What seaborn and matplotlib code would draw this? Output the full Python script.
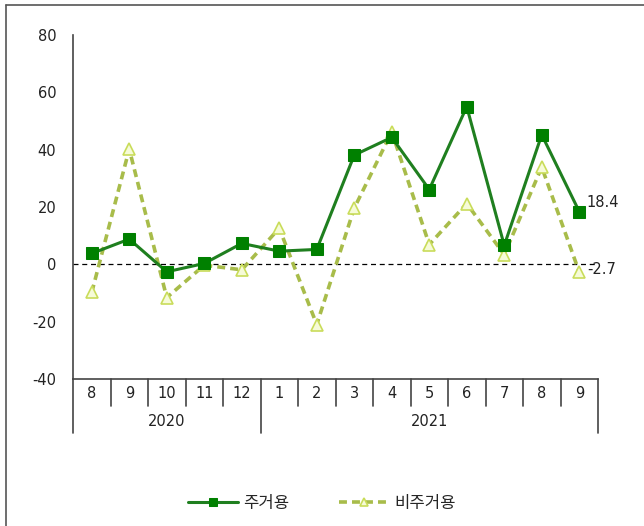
import matplotlib
matplotlib.use("Agg")
import matplotlib.pyplot as plt
import matplotlib.transforms as mtransforms
from matplotlib.lines import Line2D
import seaborn as sns
import pandas as pd

# data
months = ['8', '9', '10', '11', '12', '1', '2', '3', '4', '5', '6', '7', '8', '9']
years = ['2020', '2021']
year_spans = [(0, 5), (5, 14)]
residential = [3.8, 8.8, -2.6, 0.3, 7.3, 4.6, 5.2, 38.1, 44.3, 26.1, 55.0, 6.6, 45.2, 18.4]
non_residential = [-9.8, 40.2, -11.6, -0.3, -1.9, 12.6, -21.0, 19.6, 46.2, 6.9, 21.2, 3.4, 33.9, -2.7]
series_names = ['주거용', '비주거용']

sns.set_style("white")
plt.rcParams['font.family'] = ['DejaVu Sans', 'Noto Sans CJK KR']
plt.rcParams['axes.unicode_minus'] = False

df = pd.DataFrame({'pos': range(len(months)), 'res': residential, 'nonres': non_residential})

fig = plt.figure(figsize=(6.44, 5.26), dpi=100)
ax = fig.add_axes([73 / 644, 1 - 379 / 526, 525 / 644, 344 / 526])

ax.axhline(0, color='black', linestyle=(0, (4, 3)), linewidth=0.9, zorder=1)

sns.lineplot(data=df, x='pos', y='nonres', ax=ax, color='#a8bc4a', linewidth=2.6,
             linestyle=(0, (2.2, 1.4)), marker='^', markersize=8.5,
             markerfacecolor='#f6fbd8', markeredgecolor='#c9dc5a', markeredgewidth=1.2,
             zorder=2, label=series_names[1])
sns.lineplot(data=df, x='pos', y='res', ax=ax, color='#1f7f1f', linewidth=2.2,
             marker='s', markersize=8, markerfacecolor='#008000', markeredgecolor='#008000',
             zorder=3, label=series_names[0])

ax.set_xlim(-0.5, len(months) - 0.5)
ax.set_ylim(-40, 80)
ax.set_yticks(range(-40, 81, 20))
ax.set_xticks([])
ax.set_xlabel('')
ax.set_ylabel('')
ax.tick_params(axis='y', direction='in', length=5, width=1, colors='#333333',
               labelsize=10.5, pad=12, labelcolor='#222222')
for s in ['top', 'right']:
    ax.spines[s].set_visible(False)
for s in ['left', 'bottom']:
    ax.spines[s].set_color('#444444')
    ax.spines[s].set_linewidth(1.2)

# value labels at the last point
ax.text(len(months) - 1 + 0.2, residential[-1] + 3, f'{residential[-1]}', fontsize=10.5,
        va='center', ha='left', color='#222222')
ax.text(len(months) - 1 + 0.2, non_residential[-1] + 1, f'{non_residential[-1]}', fontsize=10.5,
        va='center', ha='left', color='#222222')

# two-level category axis
trans = mtransforms.blended_transform_factory(ax.transData, fig.transFigure)
y_top = 1 - 379 / 526
y_short = 1 - 406 / 526
y_long = 1 - 433 / 526
y_month = 1 - 393 / 526
y_year = 1 - 421 / 526
year_edges = [a for a, b in year_spans] + [year_spans[-1][1]]
for i in range(len(months) + 1):
    x = i - 0.5
    bottom = y_long if i in year_edges else y_short
    fig.add_artist(Line2D([x, x], [y_top, bottom], transform=trans, color='#444444', linewidth=1.2))
for i, m in enumerate(months):
    fig.text(i, y_month, m, transform=trans, ha='center', va='center', fontsize=10.5, color='#222222')
for yr, (a, b) in zip(years, year_spans):
    fig.text((a + b - 1) / 2, y_year, yr, transform=trans, ha='center', va='center',
             fontsize=10.5, color='#222222')

# outer frame (left and top edges)
fig.add_artist(Line2D([6 / 644, 6 / 644], [0, 1 - 5 / 526], transform=fig.transFigure,
                      color='#555555', linewidth=1.2))
fig.add_artist(Line2D([6 / 644, 1], [1 - 5 / 526, 1 - 5 / 526], transform=fig.transFigure,
                      color='#555555', linewidth=1.2))

handles, labels = ax.get_legend_handles_labels()
order = [labels.index(n) for n in series_names]
ax.legend_.remove()
fig.legend([handles[k] for k in order], [labels[k] for k in order], loc='center',
           bbox_to_anchor=(0.5, 1 - 503 / 526), ncol=2, frameon=False, fontsize=12,
           handlelength=3.0, columnspacing=3.0, handletextpad=0.3, markerscale=0.7)

fig.savefig('out.png', dpi=100)
